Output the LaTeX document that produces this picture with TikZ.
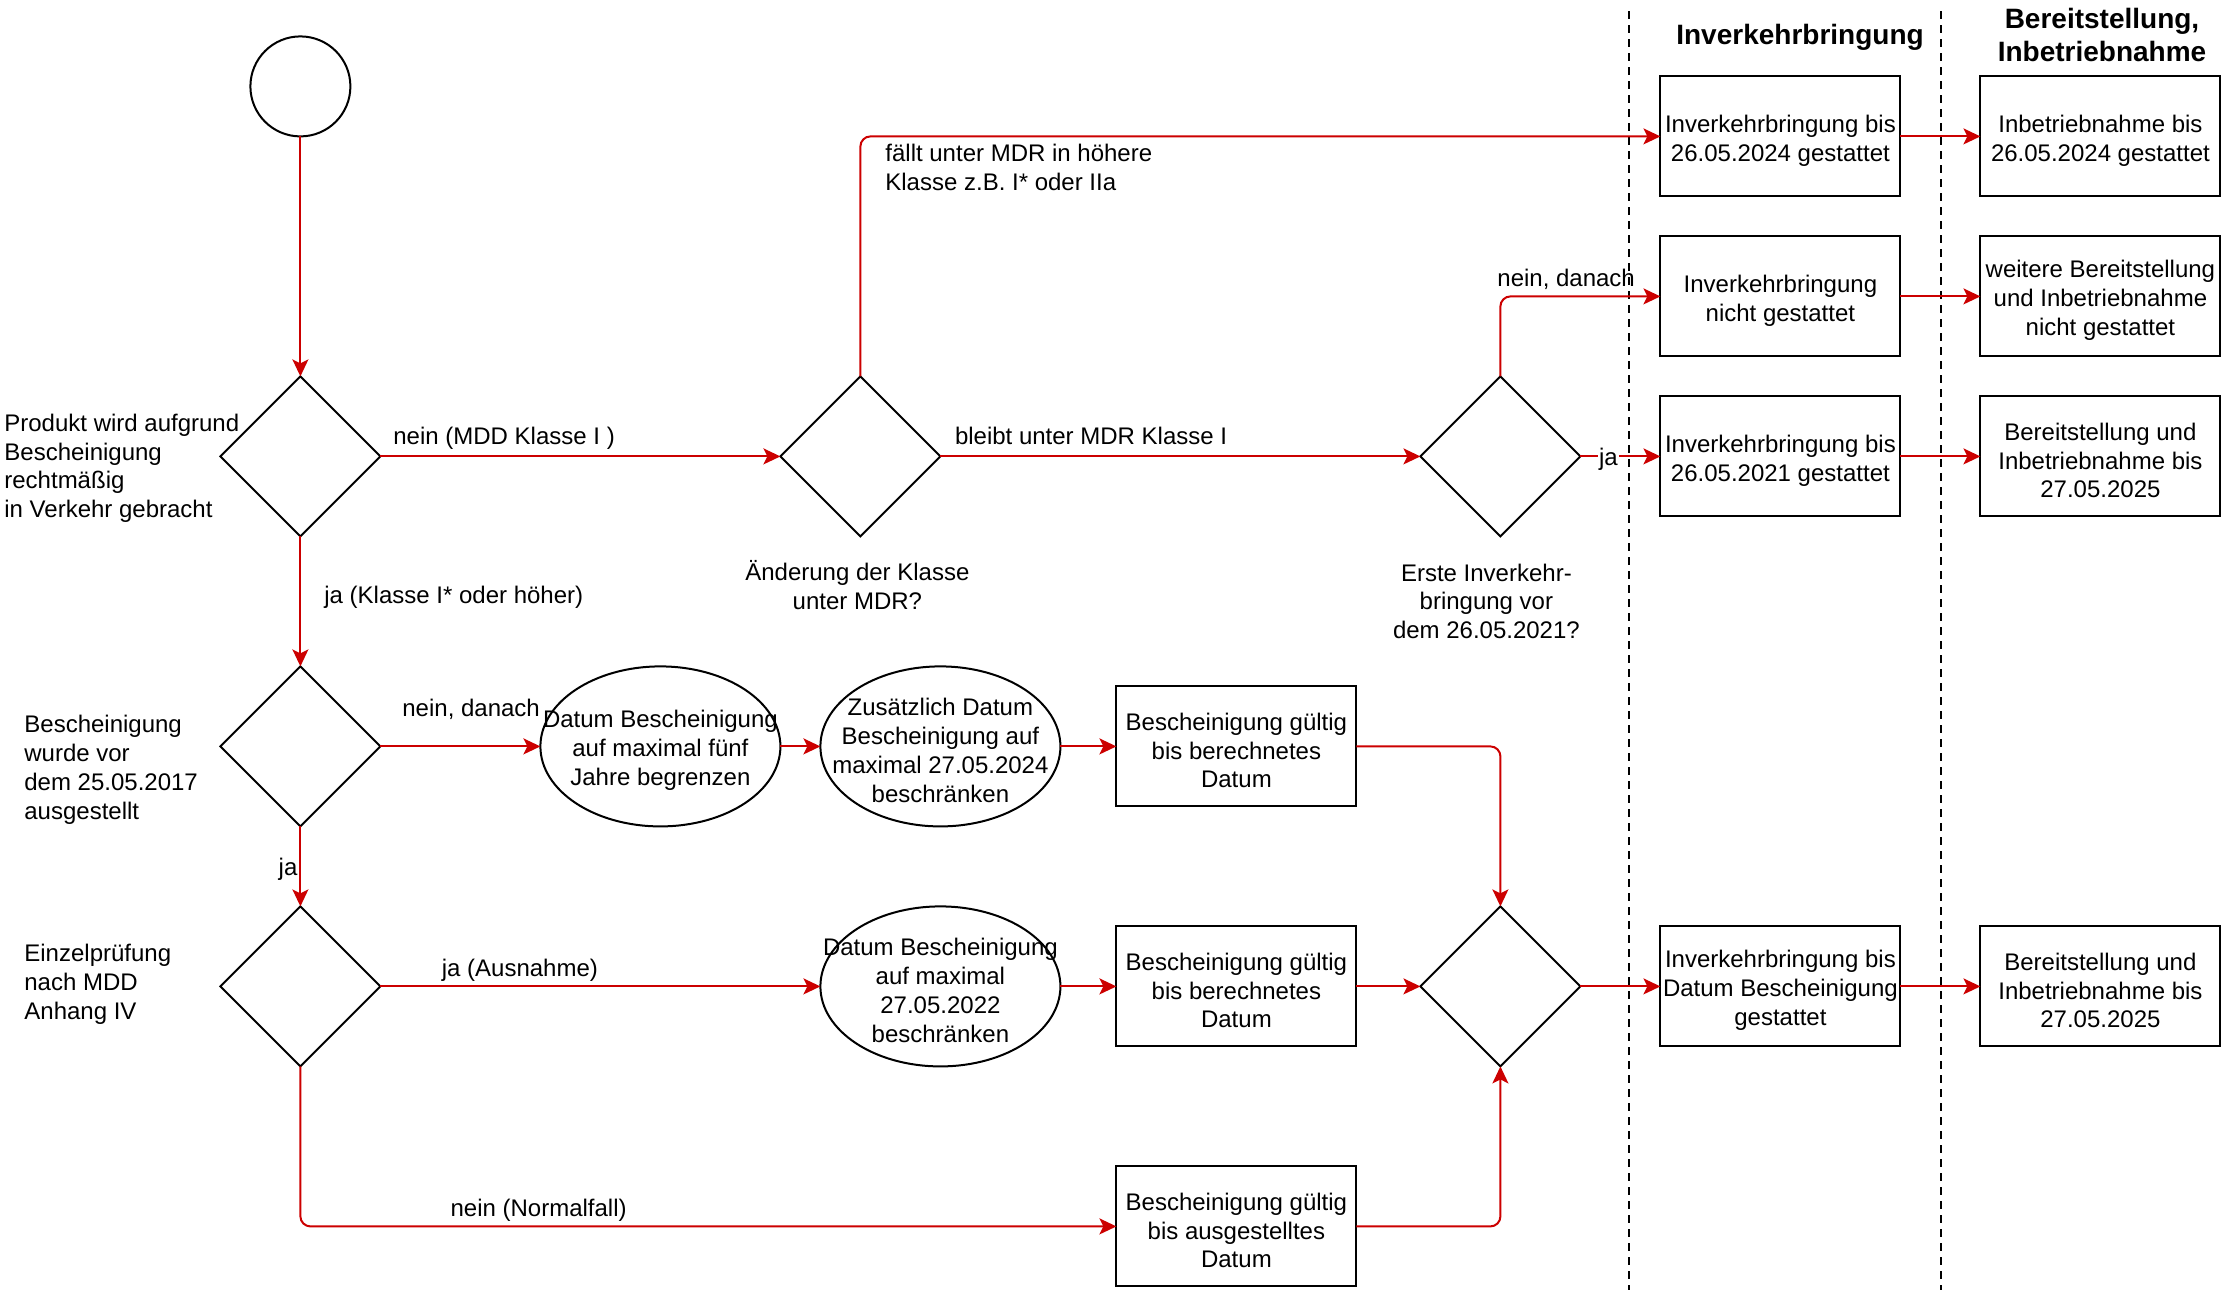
\documentclass[tikz,border=0pt]{standalone}
\usepackage{fontspec}
\setmainfont{Liberation Sans}
\usepackage{tikz}
\usetikzlibrary{positioning,arrows.meta,shapes.geometric}
\definecolor{mdrrot}{RGB}{204,0,0}
\newcommand{\zeile}{\rule{0pt}{12.8pt}}
\tikzset{kante/.style={line width=1pt, color=mdrrot, -{Stealth[length=8.5pt,width=8pt,inset=2pt]}}}
\tikzset{klabel/.style={draw=none, fill=none, inner sep=1pt, text=black}}
\tikzset{raute/.style={draw, diamond, minimum width=80pt, minimum height=80pt, inner sep=0pt, outer sep=0pt, line width=1pt}}
\tikzset{oval/.style={draw, ellipse, minimum width=120pt, minimum height=80pt, inner sep=0pt, outer sep=0pt, line width=1pt}}
\tikzset{otext/.style={align=center, inner sep=0pt}}
\tikzset{box/.style={draw, rectangle, minimum width=120pt, minimum height=60pt, inner sep=1pt, outer sep=0pt, line width=1pt, align=center}}
\tikzset{txt/.style={draw=none, inner sep=1pt, align=left}}
\tikzset{kopf/.style={font=\fontsize{14pt}{16.5pt}\selectfont\bfseries, align=center, inner sep=0pt}}
\tikzset{spur/.style={line width=1pt, dash pattern=on 4pt off 3pt}}

\begin{document}
\begin{tikzpicture}[x=1pt, y=-1pt, every node/.style={font=\fontsize{12pt}{14.4pt}\selectfont}]
            \useasboundingbox (0,0) rectangle (1111,645);
            % Spuren
            \draw[spur] (814.5,5.5) -- (814.5,645);
            \draw[spur] (970.5,5.5) -- (970.5,645);
            \node[kopf] (hInv) at (900,18.5) {Inverkehrbringung};
            \node[kopf] (hBer) at (1051,17.5) {Bereitstellung,\\Inbetriebnahme};

            \node[draw, circle, minimum size=50pt, inner sep=0pt, outer sep=0pt, line width=1pt] (start) at (150.2,43.2) {};
            \node[raute, below=120pt of start] (q1) {};
            \node[raute, right=200pt of q1] (q2) {};
            \node[raute, right=240pt of q2] (q3) {};
            \node[raute, below=65pt of q1] (q4) {};
            \node[raute, below=40pt of q4] (q5) {};
            \node[oval, right=80pt of q4, label={[otext]center:\zeile Datum Bescheinigung\\auf maximal fünf\\Jahre begrenzen}] (o1) {};
            \node[oval, right=20pt of o1, label={[otext]center:\zeile Zusätzlich Datum\\Bescheinigung auf\\maximal 27.05.2024\\beschränken}] (o2) {};
            \node[box, right=28pt of o2] (b1) {\zeile Bescheinigung gültig\\bis berechnetes\\Datum};
            \node[oval, right=220pt of q5, label={[otext]center:\zeile Datum Bescheinigung\\auf maximal\\27.05.2022\\beschränken}] (o3) {};
            \node[box, right=28pt of o3] (b2) {\zeile Bescheinigung gültig\\bis berechnetes\\Datum};
            \node[raute, right=32pt of b2] (q6) {};
            \node[box, below=60pt of b2] (b3) {\zeile Bescheinigung gültig\\bis ausgestelltes\\Datum};

            \node[box, right=40pt of q3] (i3) {\zeile Inverkehrbringung bis\\26.05.2021 gestattet};
            \node[box, above=20pt of i3] (i2) {\zeile Inverkehrbringung\\nicht gestattet};
            \node[box, above=20pt of i2] (i1) {\zeile Inverkehrbringung bis\\26.05.2024 gestattet};
            \node[box, right=40pt of q6] (i4) {\zeile Inverkehrbringung bis\\Datum Bescheinigung\\gestattet};
            \node[box, right=40pt of i1] (r1) {\zeile Inbetriebnahme bis\\26.05.2024 gestattet};
            \node[box, right=40pt of i2] (r2) {\zeile weitere Bereitstellung\\und Inbetriebnahme\\nicht gestattet};
            \node[box, right=40pt of i3] (r3) {\zeile Bereitstellung und\\Inbetriebnahme bis\\27.05.2025};
            \node[box, right=40pt of i4] (r4) {\zeile Bereitstellung und\\Inbetriebnahme bis\\27.05.2025};

            \node[txt, anchor=north west] (tProdukt) at (1,205.8) {Produkt wird aufgrund\\Bescheinigung\\rechtmäßig\\in Verkehr gebracht};
            \node[txt, anchor=north west] (tVor) at (11,356.5) {Bescheinigung\\wurde vor\\dem 25.05.2017\\ausgestellt};
            \node[txt, anchor=north west] (tEinzel) at (11,471) {Einzelprüfung\\nach MDD\\Anhang IV};
            \node[txt, align=center, below=11pt of q2, xshift=-1.5pt] (tKlasse) {Änderung der Klasse\\unter MDR?};
            \node[txt, align=center, below=12.5pt of q3, xshift=-7pt] (tErste) {Erste Inverkehr-\\bringung vor\\dem 26.05.2021?};

            \draw[kante] (start) -- (q1);
            \draw[kante] (q1) -- node[klabel, at start, anchor=base west, xshift=5pt, yshift=6pt] (lNein) {nein (MDD Klasse I )} (q2);
            \draw[kante] (q1) -- node[klabel, midway, anchor=base west, xshift=10.5pt, yshift=-1pt] (lJaKlasse) {ja (Klasse I* oder höher)} (q4);
            \draw[kante, rounded corners=5pt] (q2) |- node[klabel, pos=0.5, anchor=north west, align=left, xshift=11pt, yshift=-2.5pt] (lFaellt) {fällt unter MDR in höhere\\Klasse z.B. I* oder IIa} (i1);
            \draw[kante] (q2) -- node[klabel, at start, anchor=base west, xshift=5.8pt, yshift=6pt] (lBleibt) {bleibt unter MDR Klasse I} (q3);
            \draw[kante, rounded corners=5pt] (q3) |- node[klabel, pos=0.5, anchor=base west, xshift=-3pt, yshift=5pt] (lNeinOben) {nein, danach} (i2);
            \draw[kante] (q3) -- node[klabel, pos=0.35, fill=white, inner sep=0.5pt, yshift=-1.5pt] (lJaOben) {ja} (i3);
            \draw[kante] (i1) -- (r1);
            \draw[kante] (i2) -- (r2);
            \draw[kante] (i3) -- (r3);

            \draw[kante] (q4) -- node[klabel, at start, anchor=base west, xshift=9.5pt, yshift=15pt] (lNeinUnten) {nein, danach} (o1);
            \draw[kante] (o1) -- (o2);
            \draw[kante] (o2) -- (b1);
            \draw[kante, rounded corners=5pt] (b1) -| (q6);
            \draw[kante] (q4) -- node[klabel, midway, anchor=east, yshift=-1.5pt] (lJa) {ja} (q5);
            \draw[kante] (q5) -- node[klabel, pos=0.317, anchor=base, yshift=5pt] (lAusnahme) {ja (Ausnahme)} (o3);
            \draw[kante] (o3) -- (b2);
            \draw[kante] (b2) -- (q6);
            \draw[kante, rounded corners=5pt] (q5) |- node[klabel, pos=0.646, anchor=base, yshift=5pt] (lNormal) {nein (Normalfall)} (b3);
            \draw[kante, rounded corners=5pt] (b3) -| (q6);
            \draw[kante] (q6) -- (i4);
            \draw[kante] (i4) -- (r4);
        \end{tikzpicture}
\end{document}
